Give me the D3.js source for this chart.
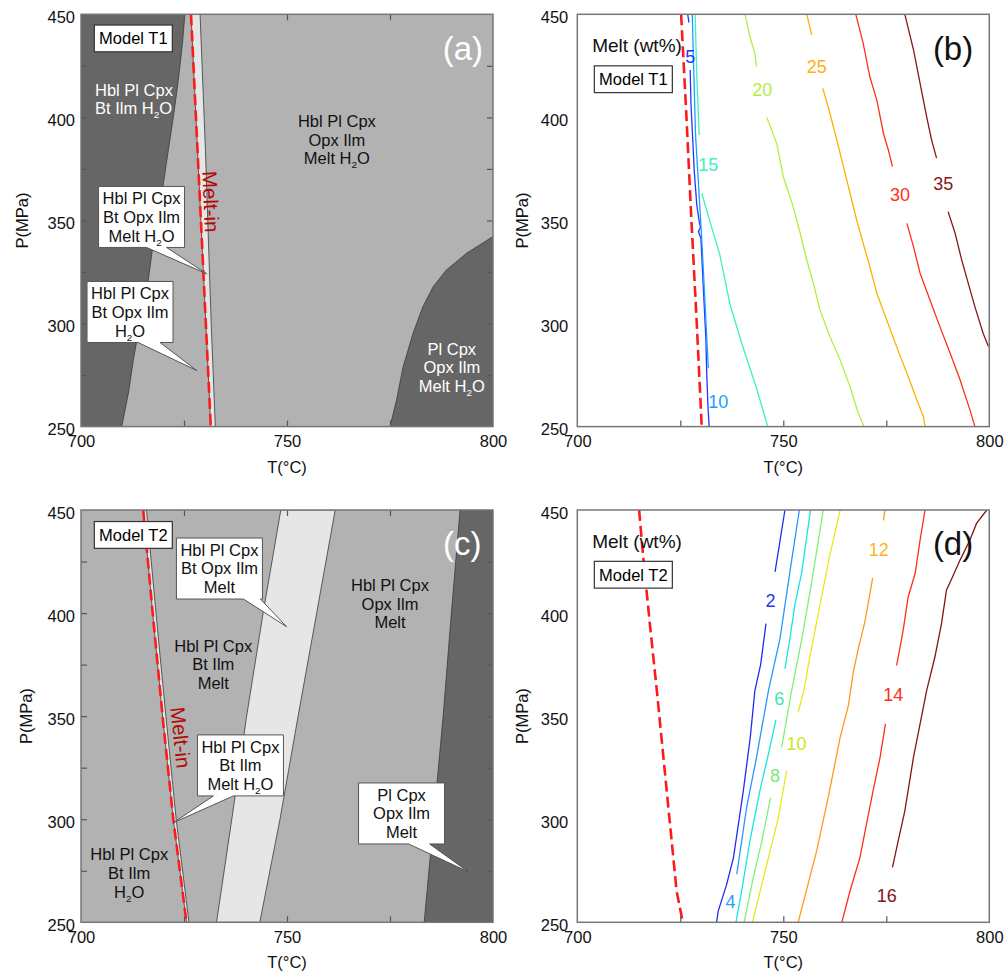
<!DOCTYPE html>
<html><head><meta charset="utf-8">
<script src="https://cdn.jsdelivr.net/npm/d3@7"></script>
<style>body{margin:0;background:#fff;} svg{display:block;} text{font-family:"Liberation Sans",Arial,Helvetica,sans-serif;}</style>
</head><body><svg id="chart" width="1007" height="972"></svg>
<script>
// ---------------- DATA ----------------
const tDomain = [700, 800];
const pDomain = [250, 450];
const xTickLabels = [700, 750, 800];
const yTickLabels = [250, 300, 350, 400, 450];
const xMinorTicks = [725, 750, 775];
const yMinorTicks = [275, 300, 325, 350, 375, 400, 425];

// Panel (a) phase boundaries (Model T1)
const aHblPlCpxBtLimitT = [725.2, 724.7, 724.0, 723.2, 722.4, 721.2, 720.0, 718.4, 717.2, 716.0, 714.3, 712.7, 711.5, 709.9];
const aHblPlCpxBtLimitP = [450, 437.5, 424.6, 411.7, 400, 384.2, 368, 350.2, 334.1, 316.3, 300.1, 282.3, 266.2, 250];
const aMeltInT = [726.7, 727.9, 729.1, 730.3, 731.5];
const aMeltInP = [450, 400, 350, 300, 250];
const aBtOutT = [728.9, 730.2, 731.6, 732.6];
const aBtOutP = [450, 384, 300, 250];
const aHblOutT = [800, 793.6, 788.7, 785.5, 783.0, 780.6, 778.2, 776.6, 775.0];
const aHblOutP = [342.2, 334.1, 326.0, 317.9, 308.2, 295.3, 279.1, 263.0, 250];

// Panel (c) phase boundaries (Model T2)
const cMeltInT = [715.1, 717.4, 719.8, 722.4, 725.6];
const cMeltInP = [450, 400, 350, 300, 250];
const cH2OOutT = [715.9, 718.2, 720.6, 723.1, 726.2];
const cH2OOutP = [450, 400, 350, 300, 250];
const cOpxInT = [748.5, 744.2, 740.2, 736.6, 732.9];
const cOpxInP = [450, 400, 350, 300, 250];
const cBtOutT = [761.7, 757.2, 752.7, 748.3, 743.4];
const cBtOutP = [450, 400, 350, 300, 250];
const cHblOutT = [792.0, 789.9, 787.9, 785.6, 783.3];
const cHblOutP = [450, 400, 350, 300, 250];

// Panel (b) melt contours (Model T1), null = gap for label
const bMeltInT = [725.2, 726.5, 727.7, 729.0, 730.2];
const bMeltInP = [450, 400, 350, 300, 250];
const bLevels = [5, 10, 15, 20, 25, 30, 35];
const b5T = [726.8, 727.1, null, 727.4, 727.6, 728.0, 728.4, 729.0, 729.6, 729.9, 729.4, 730.0, 730.4, 730.8, 731.2, 731.4, 731.7, 732.0];
const b5P = [450, 446, null, 423, 406, 389.9, 373.7, 357.5, 349.4, 346.5, 344.6, 341.4, 325.2, 309.0, 292.9, 276.7, 260.5, 250];
const b10T = [727.9, 728.3, 728.7, 730.2, 731.0, 731.8];
const b10P = [450, 420, 391.4, 341.4, 310, 278.3];
const b15T = [728.6, 729.0, 729.6, null, 730.2, 732.2, 734.6, 737.1, 740.3, 743.5, 746.0, 746.2];
const b15P = [450, 420, 391.4, null, 363.2, 349.4, 333.3, 309.0, 288.0, 268.6, 251.6, 250];
const b20T = [740.7, 741.9, 743.1, 743.5, null, 746.0, 748.4, 750.0, 752.4, 754.1, 755.7, 757.3, 758.9, 761.3, 763.8, 766.2, 768.2, 769.6];
const b20P = [450, 439.1, 431.1, 424.6, null, 400, 387.4, 371.2, 356.7, 343.8, 330.8, 319.5, 306.6, 293.7, 282.3, 269.4, 256.5, 250];
const b25T = [755.7, 756.9, null, 759.6, 761.3, 763.0, 764.6, 766.2, 767.8, 769.4, 771.0, 772.7, 775.1, 777.5, 780.0, 782.4, 784.0, 784.4];
const b25P = [450, 440, null, 414.1, 402, 389, 376.1, 363.2, 350.2, 338.9, 327.6, 314.7, 301.7, 288.8, 275.9, 263, 254.9, 250];
const b30T = [767.6, 769.4, 771.0, 772.7, 774.3, 775.5, 776.5, null, 780.0, 781.6, 783.2, 785.6, 788.0, 790.5, 792.9, 795.3, 796.5];
const b30P = [450, 435.9, 419.7, 408.4, 392.3, 384.2, 376.1, null, 348.6, 337.3, 324.4, 311.4, 298.5, 285.6, 272.7, 258.1, 250];
const b35T = [779.5, 781.6, 783.2, 784.8, 786.0, 787.2, null, 790.0, 791.7, 793.3, 794.9, 796.5, 798.5, 799.8];
const b35P = [450, 432.7, 416.5, 400.3, 389, 380.2, null, 354.3, 343.8, 330.8, 319.5, 308.2, 295.3, 288.8];
const bLabelT = [727.4, 734.2, 731.8, 744.9, 758.1, 778.3, 788.8];
const bLabelP = [429.4, 262.1, 376.9, 413.6, 424.6, 362.4, 368.0];

// Panel (d) melt contours (Model T2)
const dMeltInT = [715.0, 716.0, 717.6, 719.3, 720.9, 722.5, 724.1, 725.6];
const dMeltInP = [450, 427.3, 394.9, 362.5, 330.1, 297.6, 265.2, 250];
const dLevels = [2, 4, 6, 8, 10, 12, 14, 16];
const d2T = [750.4, 748.0, null, 745.8, 744.5, 743.1, 742.0, 740.3, 737.9, 736.2, 734.2, 733.8];
const d2P = [450, 420, null, 394.9, 375, 362.4, 340, 313.8, 281.4, 268, 255.4, 250];
const d4T = [753.9, 751.6, 749.2, 746.4, 743.5, 741.1, 738.7];
const d4P = [450, 420, 387.6, 362.4, 330.0, 305.7, 273.3];
const d6T = [756.6, 754.5, 752.8, 751.6, 750.4, null, 748.2, 746.4, 744.3, 741.9, 739.9, 738.5];
const d6P = [450, 420, 403.8, 387.6, 373.0, null, 348.2, 331.7, 313.8, 289.5, 265.2, 250];
const d8T = [759.7, 756.9, 754.5, 751.8, 749.6, null, 746.9, 744.8, 742.7, 740.5];
const d8P = [450, 415.1, 387.6, 360, 334.9, null, 310.3, 289.5, 271.7, 250];
const d10T = [763.8, 761.3, 758.9, 756.5, 755.0, 753.6, null, 750.8, 748.8, 746.0, 742.5];
const d10P = [450, 428.1, 403.8, 379.5, 362.4, 351.9, null, 323.5, 300.8, 278.2, 250];
const d12T = [774.7, 774.3, null, 771.7, 769.8, 768.2, 767.0, 765.8, 763.8, 760.9, 758.1, 753.6];
const d12P = [450, 445, null, 417.1, 395.7, 382.7, 371.4, 355.2, 339.7, 310.6, 284.6, 250];
const d14T = [784.4, 783.2, 782.0, 780.3, 779.1, 777.9, 777.5, null, 774.8, 773.5, 771.8, 770.2, 768.6, 766.2, 764.2];
const d14P = [450, 435.4, 419.2, 407.8, 391.7, 378.7, 374.6, null, 346.3, 330.1, 313.9, 297.7, 281.4, 265.2, 250];
const d16T = [799.4, 796.9, 795.3, 792.9, 790.9, 789.6, 788.4, 786.8, 784.8, 783.2, 781.6, 779.5, 777.9, 776.5];
const d16P = [450, 443.5, 435.4, 425.7, 416.8, 411.1, 394.9, 378.7, 362.5, 346.3, 330.1, 304.1, 289.6, 276.6];
const dLabelT = [746.9, 737.2, 749.0, 748.0, 753.2, 773.2, 776.7, 775.1];
const dLabelP = [406.2, 260.0, 358.7, 321.1, 336.8, 430.6, 360.5, 262.8];

// ---------------- STYLE ----------------
const FONT = '"Liberation Sans", Arial, Helvetica, sans-serif';
const DARK = '#666666', MED = '#b2b2b2', LIGHT = '#e6e6e6';
const bColors = ['#2036ff', '#1c9eff', '#3ef0c2', '#b2ee3e', '#ffb000', '#ff3018', '#861818'];
const dColors = ['#1f2cf0', '#2a96ff', '#18e4e0', '#80f07a', '#e6e81c', '#ff9a1c', '#ff2d1a', '#831515'];
const dLabelColors = ['#1f36f0', '#2aa0ff', '#3ce6b8', '#7ee87e', '#c8e820', '#ffb428', '#ff2d1a', '#831515'];
const FS = 16.5;
const W = 412, H = 412.3;
const panelPos = {a: [81, 14.3], b: [577.3, 14.3], c: [81, 510], d: [577.3, 510]};

const svg = d3.select('#chart');
const zip = (T, P) => T.map((t, i) => [t, P[i]]);

function setupPanel(key) {
  const [L, T0] = panelPos[key];
  const g = svg.append('g').attr('transform', `translate(${L},${T0})`);
  const x = d3.scaleLinear().domain(tDomain).range([0, W]);
  const y = d3.scaleLinear().domain(pDomain).range([H, 0]);
  g.append('clipPath').attr('id', 'clip-' + key).append('rect').attr('width', W).attr('height', H);
  const plot = g.append('g').attr('clip-path', `url(#clip-${key})`);
  const line = d3.line().defined(d => d[0] != null).x(d => x(d[0])).y(d => y(d[1]));
  return {g, plot, x, y, line};
}

function polygon(p, pts, fill) {
  p.plot.append('path').attr('d', d3.line().x(d => p.x(d[0])).y(d => p.y(d[1]))(pts) + 'Z')
    .attr('fill', fill).attr('stroke', '#3a3a3a').attr('stroke-width', 0.8);
}

function addLines(g, lines, cx, cy, o) {
  const fs = o.fs || FS, lh = o.lh || 18.7, n = lines.length;
  const t = g.append('text').attr('font-size', fs).attr('fill', o.fill || '#000')
    .attr('text-anchor', o.anchor || 'middle').attr('font-family', FONT);
  lines.forEach((ln, i) => {
    const by = cy + (i - (n - 1) / 2) * lh + fs * 0.36;
    const tl = t.append('tspan').attr('x', cx).attr('y', by);
    const parts = ln.split('H2O');
    parts.forEach((part, j) => {
      if (part) tl.append('tspan').text(part);
      if (j < parts.length - 1) {
        tl.append('tspan').text('H');
        tl.append('tspan').attr('font-size', fs * 0.6).attr('dy', 4).text('2');
        tl.append('tspan').attr('dy', -4).text('O');
      }
    });
  });
  return t;
}

function callout(p, c) {
  const cx = p.x(c.T), cy = p.y(c.P), w = 86, h = 61;
  const l = cx - w / 2, r = cx + w / 2, t = cy - h / 2, b = cy + h / 2;
  const b0 = cx + c.base[0], b1 = cx + c.base[1];
  const tx = p.x(c.tipT), ty = p.y(c.tipP);
  p.g.append('path').attr('d', `M${l},${t}H${r}V${b}H${b1}L${tx},${ty}L${b0},${b}H${l}Z`)
    .attr('fill', '#fff').attr('stroke', '#555').attr('stroke-width', 1);
  addLines(p.g, c.lines, cx, cy, {fill: '#111'});
}

function modelBox(p, txt, T, P) {
  const cx = p.x(T), cy = p.y(P);
  p.g.append('rect').attr('x', cx - 39).attr('y', cy - 13.4).attr('width', 78).attr('height', 26.8)
    .attr('fill', '#fff').attr('stroke', '#333').attr('stroke-width', 1.2);
  addLines(p.g, [txt], cx, cy, {fill: '#000'});
}

function meltInLine(p, pts) {
  p.plot.append('path').attr('d', p.line(pts)).attr('fill', 'none')
    .attr('stroke', '#ff1a1a').attr('stroke-width', 2.6).attr('stroke-dasharray', '11,5');
}

function meltInText(p, T, P, rot) {
  p.g.append('text').attr('transform', `translate(${p.x(T)},${p.y(P)}) rotate(${rot})`)
    .attr('text-anchor', 'middle').attr('dy', '0.35em').attr('font-size', 20.5)
    .attr('fill', '#b40a0a').attr('font-family', FONT).text('Melt-in');
}

function panelLetter(p, txt, T, P, fill) {
  p.g.append('text').attr('x', p.x(T)).attr('y', p.y(P)).attr('text-anchor', 'end')
    .attr('font-size', 33).attr('fill', fill).attr('font-family', FONT).text(txt);
}

function drawAxes(p, allSides, yTitleOff, yLabPad) {
  const g = p.g;
  const st = s => { s.select('.domain').remove(); s.attr('color', '#555'); s.selectAll('line').attr('stroke-width', 1.2); };
  g.append('g').attr('transform', `translate(0,${H})`).call(d3.axisBottom(p.x).tickValues(xMinorTicks).tickSize(-6).tickFormat('')).call(st);
  if (allSides) {
    g.append('g').call(d3.axisTop(p.x).tickValues(xMinorTicks).tickSize(-6).tickFormat('')).call(st);
    g.append('g').call(d3.axisLeft(p.y).tickValues(yMinorTicks).tickSize(-6).tickFormat('')).call(st);
    g.append('g').attr('transform', `translate(${W},0)`).call(d3.axisRight(p.y).tickValues(yMinorTicks).tickSize(-6).tickFormat('')).call(st);
  }
  g.append('rect').attr('width', W).attr('height', H).attr('fill', 'none').attr('stroke', '#777').attr('stroke-width', 1.5);
  const lab = s => { s.select('.domain').remove(); s.attr('font-size', FS).attr('font-family', FONT).attr('color', '#111'); };
  g.append('g').attr('transform', `translate(0,${H})`)
    .call(d3.axisBottom(p.x).tickValues(xTickLabels).tickSize(0).tickPadding(9).tickFormat(d3.format('d'))).call(lab);
  g.append('g').call(d3.axisLeft(p.y).tickValues(yTickLabels).tickSize(0).tickPadding(yLabPad).tickFormat(d3.format('d'))).call(lab)
    .selectAll('text').attr('dy', '0.5em');
  g.append('text').attr('x', W / 2).attr('y', H + 46).attr('text-anchor', 'middle').attr('font-size', FS)
    .attr('font-family', FONT).attr('fill', '#111').text('T(°C)');
  g.append('text').attr('transform', `translate(${-yTitleOff},${H / 2}) rotate(-90)`).attr('text-anchor', 'middle')
    .attr('dy', '0.35em').attr('font-size', FS).attr('font-family', FONT).attr('fill', '#111').text('P(MPa)');
}

function contours(p, series, levels, colors, labelColors, labT, labP) {
  series.forEach((s, i) => {
    p.plot.append('path').attr('d', p.line(s)).attr('fill', 'none').attr('stroke', colors[i]).attr('stroke-width', 1.3);
  });
  levels.forEach((lv, i) => {
    p.g.append('text').attr('x', p.x(labT[i])).attr('y', p.y(labP[i])).attr('dy', '0.36em')
      .attr('text-anchor', 'middle').attr('font-size', 18).attr('font-family', FONT)
      .attr('fill', labelColors[i]).text(lv);
  });
}

// ---------------- PANEL (a) ----------------
{
  const p = setupPanel('a');
  p.plot.append('rect').attr('width', W).attr('height', H).attr('fill', MED);
  polygon(p, [[700, 450], ...zip(aHblPlCpxBtLimitT, aHblPlCpxBtLimitP), [700, 250]], DARK);
  polygon(p, [...zip(aMeltInT, aMeltInP), ...zip(aBtOutT, aBtOutP).reverse()], LIGHT);
  polygon(p, [...zip(aHblOutT, aHblOutP), [800, 250]], DARK);
  meltInLine(p, zip(aMeltInT, aMeltInP));
  addLines(p.g, ['Hbl Pl Cpx', 'Bt Ilm H2O'], p.x(703.4), p.y(408.9), {fill: '#fff', anchor: 'start'});
  addLines(p.g, ['Hbl Pl Cpx', 'Opx Ilm', 'Melt H2O'], p.x(762.1), p.y(389.1), {fill: '#111'});
  addLines(p.g, ['Pl Cpx', 'Opx Ilm', 'Melt H2O'], p.x(790.0), p.y(278.7), {fill: '#fff'});
  callout(p, {lines: ['Hbl Pl Cpx', 'Bt Opx Ilm', 'Melt H2O'], T: 714.7, P: 351.7, tipT: 730.5, tipP: 324.1, base: [5, 25]});
  callout(p, {lines: ['Hbl Pl Cpx', 'Bt Opx Ilm', 'H2O'], T: 711.9, P: 305.6, tipT: 728.1, tipP: 277.2, base: [8, 30]});
  meltInText(p, 731.5, 359.1, 87.3);
  modelBox(p, 'Model T1', 712.7, 438.3);
  panelLetter(p, '(a)', 797.6, 427.8, '#fff');
  drawAxes(p, true, 58.5, 6);
}

// ---------------- PANEL (b) ----------------
{
  const p = setupPanel('b');
  meltInLine(p, zip(bMeltInT, bMeltInP));
  const series = [zip(b5T, b5P), zip(b10T, b10P), zip(b15T, b15P), zip(b20T, b20P), zip(b25T, b25P), zip(b30T, b30P), zip(b35T, b35P)];
  contours(p, series, bLevels, bColors, bColors, bLabelT, bLabelP);
  p.g.append('text').attr('x', p.x(703.6)).attr('y', p.y(431.9)).attr('font-size', 19).attr('font-family', FONT).attr('fill', '#111').text('Melt (wt%)');
  modelBox(p, 'Model T1', 713.6, 418.5);
  panelLetter(p, '(b)', 796.1, 428.0, '#111');
  drawAxes(p, false, 55.5, 9);
}

// ---------------- PANEL (c) ----------------
{
  const p = setupPanel('c');
  p.plot.append('rect').attr('width', W).attr('height', H).attr('fill', MED);
  polygon(p, [...zip(cMeltInT, cMeltInP), ...zip(cH2OOutT, cH2OOutP).reverse()], LIGHT);
  polygon(p, [...zip(cOpxInT, cOpxInP), ...zip(cBtOutT, cBtOutP).reverse()], LIGHT);
  polygon(p, [...zip(cHblOutT, cHblOutP), [800, 250], [800, 450]], DARK);
  meltInLine(p, zip(cMeltInT, cMeltInP));
  addLines(p.g, ['Hbl Pl Cpx', 'Bt Ilm', 'Melt'], p.x(732.1), p.y(375.1), {fill: '#111'});
  addLines(p.g, ['Hbl Pl Cpx', 'Opx Ilm', 'Melt'], p.x(775.0), p.y(404.6), {fill: '#111'});
  addLines(p.g, ['Hbl Pl Cpx', 'Bt Ilm', 'H2O'], p.x(711.7), p.y(273.9), {fill: '#111'});
  callout(p, {lines: ['Hbl Pl Cpx', 'Bt Opx Ilm', 'Melt'], T: 733.6, P: 421.6, tipT: 749.9, tipP: 393.4, base: [24, 41]});
  callout(p, {lines: ['Hbl Pl Cpx', 'Bt Ilm', 'Melt H2O'], T: 738.7, P: 326.1, tipT: 722.4, tipP: 298.3, base: [-27, -7]});
  callout(p, {lines: ['Pl Cpx', 'Opx Ilm', 'Melt'], T: 777.8, P: 302.8, tipT: 794.0, tipP: 274.5, base: [7, 28]});
  meltInText(p, 724.2, 339.6, 84);
  modelBox(p, 'Model T2', 712.7, 437.9);
  panelLetter(p, '(c)', 797.2, 428.3, '#fff');
  drawAxes(p, true, 54.5, 6);
}

// ---------------- PANEL (d) ----------------
{
  const p = setupPanel('d');
  meltInLine(p, zip(dMeltInT, dMeltInP));
  const series = [zip(d2T, d2P), zip(d4T, d4P), zip(d6T, d6P), zip(d8T, d8P), zip(d10T, d10P), zip(d12T, d12P), zip(d14T, d14P), zip(d16T, d16P)];
  contours(p, series, dLevels, dColors, dLabelColors, dLabelT, dLabelP);
  p.g.append('text').attr('x', p.x(703.6)).attr('y', p.y(431.4)).attr('font-size', 19).attr('font-family', FONT).attr('fill', '#111').text('Melt (wt%)');
  modelBox(p, 'Model T2', 713.6, 418.6);
  panelLetter(p, '(d)', 796.1, 428.2, '#111');
  drawAxes(p, false, 55, 9);
}
</script></body></html>
